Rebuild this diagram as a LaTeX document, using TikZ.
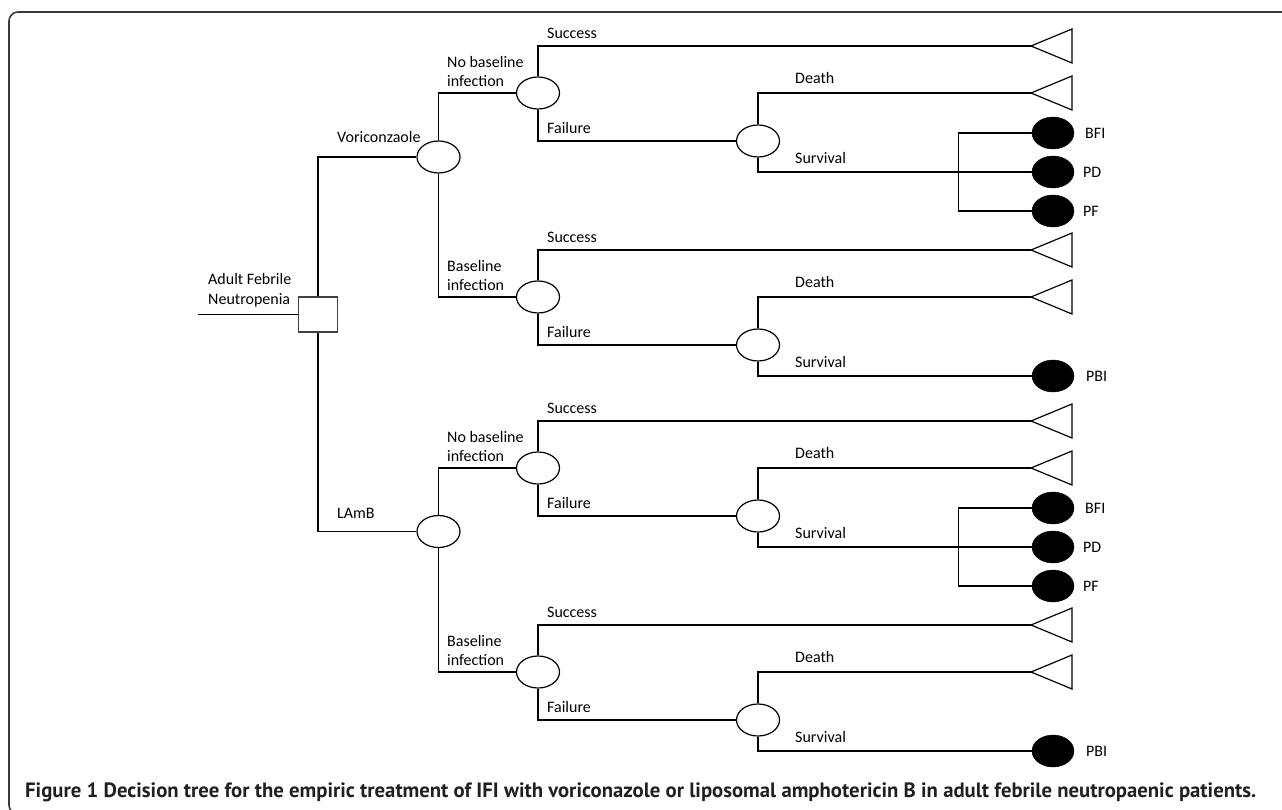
\documentclass[tikz,border=0pt]{standalone}
\usepackage{fontspec}
\usepackage{graphicx}
\setmainfont{Carlito}
\newfontfamily\capfont{PT Sans}
\usetikzlibrary{shapes.geometric}
\definecolor{capcol}{HTML}{231F20}
\definecolor{framecol}{HTML}{3A3A3A}
\tikzset{
  tree/.style={line width=1.2pt, draw=black},
  chance/.style={ellipse, draw=black, line width=1.2pt, fill=white, minimum width=43pt, minimum height=32pt, inner sep=0pt},
  outc/.style={ellipse, draw=black, fill=black, minimum width=42pt, minimum height=32pt, inner sep=0pt},
  decis/.style={rectangle, draw=black!75, line width=1.2pt, minimum width=39pt, minimum height=35pt, inner sep=0pt},
  term/.style={line width=1.2pt, draw=black},
  lbl/.style={anchor=west, inner sep=0pt, font=\fontsize{16}{19.5}\selectfont, align=left},
}
% #1 prefix, #2 y of chance node, #3 first label line, #4 second label line
\newcommand\subtreeB[4]{%
  \node[chance] (#1c) at (538,#2) {};
  \node[lbl] (#1lab) at (447,#2-21.5) {#3\\#4};
  \coordinate (#1ts) at (1031,#2-47);
  \draw[term] (#1ts) -- ++(41,-17) -- ++(0,34) -- cycle;
  \draw[tree] (#1c.north) |- (#1ts);
  \node[lbl] (#1sl) at (547,#2-60) {Success};
  \node[chance] (#1f) at (758,#2+48) {};
  \draw[tree] (#1c.south) |- (#1f.west);
  \node[lbl] (#1fl) at (547,#2+35) {Failure};
  \coordinate (#1td) at (1031,#2);
  \draw[term] (#1td) -- ++(41,-17) -- ++(0,34) -- cycle;
  \draw[tree] (#1f.north) |- (#1td);
  \node[lbl] (#1dl) at (795,#2-15) {Death};
  \node[lbl] (#1vl) at (795,#2+65) {Survival};
}
% #1 prefix, #2 survival y
\newcommand\threeOut[2]{%
  \node[outc] (#1pd) at (1053,#2) {};
  \node[outc] (#1bfi) at (1053,#2-39) {};
  \node[outc] (#1pf) at (1053,#2+39) {};
  \draw[tree] (#1f.south) |- (#1pd.west);
  \draw[tree] (#1bfi.west) -- ++(-73,0) |- (#1pf.west);
  \node[lbl] (#1bfil) at (1085,#2-39) {BFI};
  \node[lbl] (#1pdl) at (1083,#2) {PD};
  \node[lbl] (#1pfl) at (1083,#2+39) {PF};
}
\newcommand\oneOut[2]{%
  \node[outc] (#1pbi) at (1053,#2) {};
  \draw[tree] (#1f.south) |- (#1pbi.west);
  \node[lbl] (#1pbil) at (1086,#2) {PBI};
}
\begin{document}
\begin{tikzpicture}[x=1pt,y=-1pt]
\clip (0,0) rectangle (1282,810);
\fill[white] (0,0) rectangle (1282,810);
\draw[framecol, line width=1.6pt, rounded corners=9pt] (1300,12) -- (9,12) -- (9,814) -- (1300,814);
% root
\node[decis] (dec) at (318,314.5) {};
\coordinate (in) at (198,314.5);
\draw[tree] (in) -- (dec.west);
\node[lbl] (root) at (208,290) {Adult Febrile\\Neutropenia};
% arms
\node[chance] (vor) at (438.5,157) {};
\node[chance] (lamb) at (438.5,531.5) {};
\draw[tree] (dec.north) |- (vor.west);
\draw[tree] (dec.south) |- (lamb.west);
\node[lbl] (vorl) at (337,137) {Voriconzaole};
\node[lbl] (lambl) at (337,513) {LAmB};
% Voriconazole sub-branches
\subtreeB{a}{93}{No baseline}{infection}
\subtreeB{b}{297}{Baseline}{infection}
\draw[tree] (vor.north) |- (ac.west);
\draw[tree] (vor.south) |- (bc.west);
\threeOut{a}{172}
\oneOut{b}{376}
% LAmB sub-branches
\subtreeB{c}{468}{No baseline}{infection}
\subtreeB{d}{672}{Baseline}{infection}
\draw[tree] (lamb.north) |- (cc.west);
\draw[tree] (lamb.south) |- (dc.west);
\threeOut{c}{547}
\oneOut{d}{751}
% caption
\node[anchor=west, inner sep=0pt, text=capcol] (cap) at (25,792) {\resizebox{1231pt}{!}{\capfont\bfseries\fontsize{16.5}{20}\selectfont Figure 1 Decision tree for the empiric treatment of IFI with voriconazole or liposomal amphotericin B in adult febrile neutropaenic patients.}};
\end{tikzpicture}
\end{document}
